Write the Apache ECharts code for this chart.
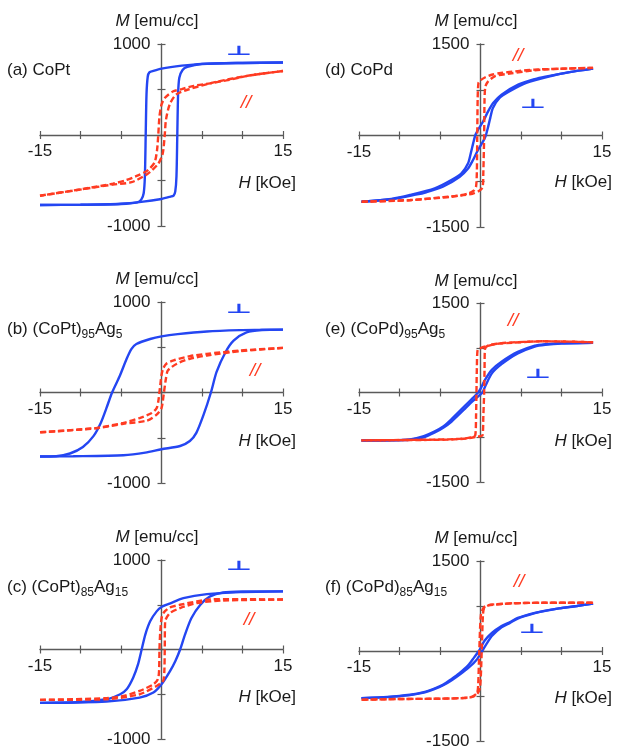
<!DOCTYPE html>
<html><head><meta charset="utf-8">
<script src="https://cdn.jsdelivr.net/npm/echarts@6/dist/echarts.min.js"></script>
<style>html,body{margin:0;padding:0;background:#fff}#c{width:617px;height:749px}</style>
</head><body><div id="c"></div>
<script>
// ---------- tick labels ----------
const xLabelVals = [-15, 15];
const yLabelsPt = [-1000, 1000];
const yLabelsPd = [-1500, 1500];

// ---------- (a) CoPt ----------
const aPerpDown = [[15,797],[10,792],[5,782],[2.5,762],[0,730],[-1,705],[-1.5,688],[-1.7,640],[-1.85,450],[-1.95,0],[-2.05,-450],[-2.2,-640],[-2.5,-710],[-3,-740],[-5,-758],[-10,-766],[-15,-770]];
const aPerpUp = [[-15,-770],[-10,-766],[-5,-755],[-2.5,-735],[0,-703],[1,-680],[1.5,-665],[1.7,-620],[1.85,-450],[1.95,0],[2.05,450],[2.2,630],[2.6,715],[3.2,750],[5,780],[10,792],[15,797]];
const aParDown = [[15,703],[11,656],[8,600],[6,568],[4,540],[2.5,505],[1.4,478],[0.4,407],[0,333],[-0.25,203],[-0.4,0],[-0.55,-167],[-0.85,-300],[-1.7,-389],[-2.9,-444],[-4.5,-500],[-6,-535],[-9.7,-593],[-15,-667]];
const aParUp = [[-15,-667],[-9.7,-595],[-6,-545],[-3.7,-519],[-1.7,-426],[-0.4,-315],[0.15,-204],[0.4,0],[0.55,167],[1.0,333],[1.8,444],[3.3,500],[6.6,581],[11,656],[15,703]];

// ---------- (b) (CoPt)95Ag5 ----------
const bPerpDown = [[15,695],[12,692],[9.7,689],[5.6,674],[2,645],[0,620],[-1.4,591],[-3.1,536],[-3.7,482],[-4.3,373],[-5.2,173],[-6.1,0],[-6.8,-173],[-7.5,-336],[-8.4,-482],[-9.7,-602],[-11.3,-674],[-13,-704],[-15,-707]];
const bPerpUp = [[-15,-707],[-10.9,-704],[-4.7,-693],[-2,-665],[0,-627],[2.3,-591],[3.5,-536],[4.3,-446],[5.2,-245],[6.1,0],[6.8,227],[7.9,445],[8.9,573],[10.5,664],[12.4,690],[15,695]];
const bParDown = [[15,493],[9.7,464],[5.6,427],[3.5,402],[1.5,355],[0.6,318],[0.2,264],[0,191],[-0.2,45],[-0.4,-100],[-0.6,-173],[-1.2,-227],[-2.7,-282],[-4.7,-336],[-8,-391],[-15,-440]];
const bParUp = [[-15,-440],[-8,-395],[-4.7,-345],[-1.8,-311],[-0.6,-245],[0,-173],[0.3,0],[0.55,155],[0.8,245],[1.9,318],[3.5,373],[5.6,409],[9.7,456],[15,493]];

// ---------- (c) (CoPt)85Ag15 ----------
const cPerpDown = [[15,650],[9.7,641],[5.6,619],[2.7,574],[1,512],[0,474],[-0.6,426],[-1.4,315],[-2.0,167],[-2.45,0],[-2.9,-167],[-3.5,-315],[-4.3,-444],[-5.1,-500],[-6.8,-556],[-10.9,-593],[-15,-596]];
const cPerpUp = [[-15,-596],[-6.8,-581],[-2.7,-537],[-1,-481],[0,-389],[1.05,-241],[1.7,-130],[2.3,0],[2.9,167],[3.7,352],[4.8,500],[6.0,593],[7.6,637],[10,648],[15,650]];
const cParDown = [[15,558],[10,562],[6,560],[4.35,537],[2.3,500],[1.05,470],[0.4,426],[0.05,370],[-0.15,204],[-0.25,0],[-0.3,-241],[-0.45,-333],[-1,-389],[-2.7,-463],[-4.7,-519],[-6.8,-544],[-15,-563]];
const cParUp = [[-15,-563],[-6.8,-556],[-2.7,-500],[-0.6,-407],[0.2,-352],[0.35,-241],[0.4,0],[0.45,315],[1.05,407],[2.3,463],[4.35,519],[7.6,548],[15,558]];

// ---------- (d) CoPd ----------
const dPerpDown = [[13.9,1097],[11,1040],[8,965],[6.7,925],[4.65,834],[2.6,670],[1.56,533],[0.94,395],[0.32,230],[-0.3,94],[-0.62,12],[-0.9,-125],[-1.2,-290],[-1.53,-454],[-2.35,-619],[-3.6,-729],[-5.65,-866],[-8.7,-976],[-11,-1040],[-14.7,-1086]];
const dPerpUp = [[-14.7,-1086],[-11,-1045],[-8,-970],[-6.7,-930],[-4.65,-840],[-2.6,-680],[-1.56,-545],[-0.94,-405],[-0.32,-240],[0.3,-100],[0.62,-15],[0.9,120],[1.2,285],[1.53,450],[2.35,615],[3.6,725],[5.65,862],[8.7,975],[11,1040],[13.9,1097]];
const dParDown = [[13.9,1108],[10,1095],[6.7,1080],[4.6,1055],[2.5,1025],[1.5,1000],[0.6,955],[0,905],[-0.25,860],[-0.35,600],[-0.4,0],[-0.45,-600],[-0.55,-840],[-0.8,-900],[-1.5,-950],[-3.6,-1005],[-8.7,-1058],[-14.7,-1086]];
const dParUp = [[-14.7,-1086],[-8.7,-1062],[-4.6,-1010],[-2.5,-985],[-1,-955],[-0.2,-910],[0.25,-850],[0.35,-600],[0.45,0],[0.5,600],[0.6,800],[0.9,880],[1.8,975],[3.6,1015],[6.7,1070],[10,1095],[13.9,1108]];

// ---------- (e) (CoPd)95Ag5 ----------
const ePerpDown = [[13.9,835],[10,828],[8,810],[6.7,785],[4.6,680],[2.6,515],[1.4,380],[0.5,200],[0,60],[-0.3,0],[-1,-100],[-1.9,-220],[-3.6,-450],[-4.6,-570],[-5.7,-655],[-7,-730],[-8.7,-785],[-11,-800],[-14.7,-805]];
const ePerpUp = [[-14.7,-805],[-11,-802],[-8.7,-792],[-7,-750],[-5.7,-675],[-4.6,-590],[-3.6,-490],[-1.9,-270],[-1,-150],[0,-30],[0.25,0],[0.6,110],[1.4,320],[2.6,475],[4.6,655],[6.7,770],[8,800],[10,822],[13.9,835]];
const eParDown = [[13.9,842],[10,855],[7.7,858],[4,835],[2,814],[0.75,775],[0,745],[-0.35,720],[-0.45,400],[-0.5,0],[-0.55,-400],[-0.65,-717],[-1.7,-765],[-4,-785],[-9,-795],[-14.7,-803]];
const eParUp = [[-14.7,-803],[-9,-797],[-4,-790],[-1.7,-770],[-0.5,-740],[0.25,-717],[0.35,-400],[0.45,0],[0.5,400],[0.55,728],[1,790],[2,818],[4,840],[7.7,858],[10,855],[13.9,842]];

// ---------- (f) (CoPd)85Ag15 ----------
const fPerpDown = [[13.9,790],[11.9,750],[9.7,710],[7.7,665],[6.7,636],[4.6,552],[3.6,480],[2.6,415],[1.4,300],[0.5,170],[-0.2,0],[-0.8,-110],[-1.5,-235],[-2.6,-370],[-3.6,-470],[-4.6,-560],[-5.7,-625],[-7,-685],[-8.7,-729],[-11.5,-765],[-14.7,-785]];
const fPerpUp = [[-14.7,-785],[-11.5,-768],[-8.7,-735],[-7,-695],[-5.7,-635],[-4.6,-570],[-3.6,-490],[-2.6,-395],[-1.5,-280],[-0.5,-150],[0.2,0],[0.8,130],[1.4,250],[2.6,395],[3.6,465],[4.6,540],[6.7,630],[7.7,660],[9.7,710],[11.9,750],[13.9,790]];
const fParDown = [[13.9,805],[8,805],[4,795],[2,780],[1,765],[0.4,725],[0.05,600],[-0.15,0],[-0.3,-600],[-0.45,-705],[-1,-760],[-2,-780],[-5,-795],[-10,-800],[-14.7,-813]];
const fParUp = [[-14.7,-813],[-10,-800],[-5,-795],[-2,-785],[-1,-765],[-0.4,-715],[-0.05,-600],[0.15,0],[0.3,600],[0.45,715],[1,760],[2,776],[4,795],[8,805],[13.9,805]];

// ---------- text ----------
const panelLabels = ['(a) CoPt', '(b) (CoPt){s|95}{n|Ag}{s|5}', '(c) (CoPt){s|85}{n|Ag}{s|15}',
                     '(d) CoPd', '(e) (CoPd){s|95}{n|Ag}{s|5}', '(f) (CoPd){s|85}{n|Ag}{s|15}'];
const perpSymbol = '\u22A5';
const parSymbol = '//';
const yTitle = '{i|M}{n| [emu/cc]}';
const xTitle = '{i|H}{n| [kOe]}';

// ---------- styling / layout ----------
const BLUE = '#2446f2';
const RED = '#ff3b22';
const AX = '#5a5a5a';
const FONT = '"Liberation Sans", Arial, Helvetica, sans-serif';
const W = 243;

const panels = [
  {perp:[aPerpDown,aPerpUp], par:[aParDown,aParUp], yl:yLabelsPt, left:40,  top:44,  h:182},
  {perp:[bPerpDown,bPerpUp], par:[bParDown,bParUp], yl:yLabelsPt, left:40,  top:302, h:181},
  {perp:[cPerpDown,cPerpUp], par:[cParDown,cParUp], yl:yLabelsPt, left:40,  top:560, h:179},
  {perp:[dPerpDown,dPerpUp], par:[dParDown,dParUp], yl:yLabelsPd, left:359, top:44,  h:183},
  {perp:[ePerpDown,ePerpUp], par:[eParDown,eParUp], yl:yLabelsPd, left:359, top:303, h:179},
  {perp:[fPerpDown,fPerpUp], par:[fParDown,fParUp], yl:yLabelsPd, left:359, top:561, h:180}
];
const labelPos = [[7,70],[7,329],[7,587],[325,70],[325,329],[325,587]];
const yTitlePos = [[157,21],[157,279],[157,537],[476,21],[476,281],[476,538]];
const xTitlePos = [[296,183],[296,441],[296,697],[612,182],[612,441],[612,698]];
const perpPos = [[239,52],[239,310],[239,567],[533,105],[538,375],[532,630]];
const parPos = [[246,103],[255,371],[249,620],[518,56],[513,321],[519,582]];

const N = panels.length;
const grid = [], xAxis = [], yAxis = [], series = [], graphic = [];
const tickStyle = {color:AX, width:1.2};
panels.forEach((p, i) => {
  const yMax = Math.max(...p.yl);
  grid.push({left:p.left, top:p.top, width:W, height:p.h, containLabel:false, outerBoundsMode:'none'});
  xAxis[i] = {
    type:'value', gridIndex:i, min:-15, max:15, interval:5,
    position:'bottom', offset:-p.h/2,
    axisLine:{onZero:false, lineStyle:{color:AX, width:1.4}},
    axisTick:{show:true, length:4, lineStyle:tickStyle},
    splitLine:{show:false},
    axisLabel:{margin:8, color:'#1a1a1a', fontSize:17, fontFamily:FONT,
      formatter: v => xLabelVals.includes(v) ? String(v) : ''}
  };
  // mirror axis: ticks on the other side of the line
  xAxis[N + i] = {
    type:'value', gridIndex:i, min:-15, max:15, interval:5,
    position:'bottom', offset:-p.h/2,
    axisLine:{show:false, onZero:false},
    axisTick:{show:true, inside:true, length:4, lineStyle:tickStyle},
    splitLine:{show:false}, axisLabel:{show:false}
  };
  yAxis[i] = {
    type:'value', gridIndex:i, min:-yMax, max:yMax, interval:yMax/2,
    position:'left', offset:-W/2,
    axisLine:{onZero:false, lineStyle:{color:AX, width:1.4}},
    axisTick:{show:true, length:4, lineStyle:tickStyle},
    splitLine:{show:false},
    axisLabel:{margin:11, color:'#1a1a1a', fontSize:17, fontFamily:FONT,
      formatter: v => p.yl.includes(v) ? String(v) : ''}
  };
  yAxis[N + i] = {
    type:'value', gridIndex:i, min:-yMax, max:yMax, interval:yMax/2,
    position:'left', offset:-W/2,
    axisLine:{show:false, onZero:false},
    axisTick:{show:true, inside:true, length:4, lineStyle:tickStyle},
    splitLine:{show:false}, axisLabel:{show:false}
  };
  p.perp.forEach(d => series.push({type:'line', xAxisIndex:i, yAxisIndex:i, data:d, showSymbol:false,
    smooth:0.25, lineStyle:{color:BLUE, width:2.4}, z:2, animation:false}));
  p.par.forEach(d => series.push({type:'line', xAxisIndex:i, yAxisIndex:i, data:d, showSymbol:false,
    smooth:0.25, lineStyle:{color:RED, width:2.4, type:[6,3]}, z:3, animation:false}));

  const rich = {
    n:{fontSize:17, fontFamily:FONT, lineHeight:24, fill:'#1a1a1a'},
    s:{fontSize:12, fontFamily:FONT, lineHeight:12, verticalAlign:'bottom', fill:'#1a1a1a'}
  };
  graphic.push({type:'text', x:labelPos[i][0], y:labelPos[i][1], z:10,
    style:{text:'{n|' + panelLabels[i].replace(/^([^{]*)/, '$1}'), rich, verticalAlign:'middle', align:'left'}});
  const trich = {
    i:{fontSize:17, fontFamily:FONT, fontStyle:'italic', fill:'#1a1a1a'},
    n:{fontSize:17, fontFamily:FONT, fill:'#1a1a1a'}
  };
  graphic.push({type:'text', x:yTitlePos[i][0], y:yTitlePos[i][1], z:10,
    style:{text:yTitle, rich:trich, align:'center', verticalAlign:'middle'}});
  graphic.push({type:'text', x:xTitlePos[i][0], y:xTitlePos[i][1], z:10,
    style:{text:xTitle, rich:trich, align:'right', verticalAlign:'middle'}});
  graphic.push({type:'text', x:perpPos[i][0], y:perpPos[i][1], z:10, scaleY:0.55, scaleX:1.2,
    style:{text:perpSymbol, font:'bold 24px "DejaVu Sans", sans-serif', fill:BLUE, align:'center', verticalAlign:'middle'}});
  graphic.push({type:'text', x:parPos[i][0], y:parPos[i][1], z:10,
    style:{text:parSymbol, font:'italic 19px ' + FONT, fill:RED, align:'center', verticalAlign:'middle'}});
});

const chart = echarts.init(document.getElementById('c'), null, {renderer:'canvas'});
chart.setOption({animation:false, backgroundColor:'#fff', grid, xAxis, yAxis, series, graphic});
</script></body></html>
